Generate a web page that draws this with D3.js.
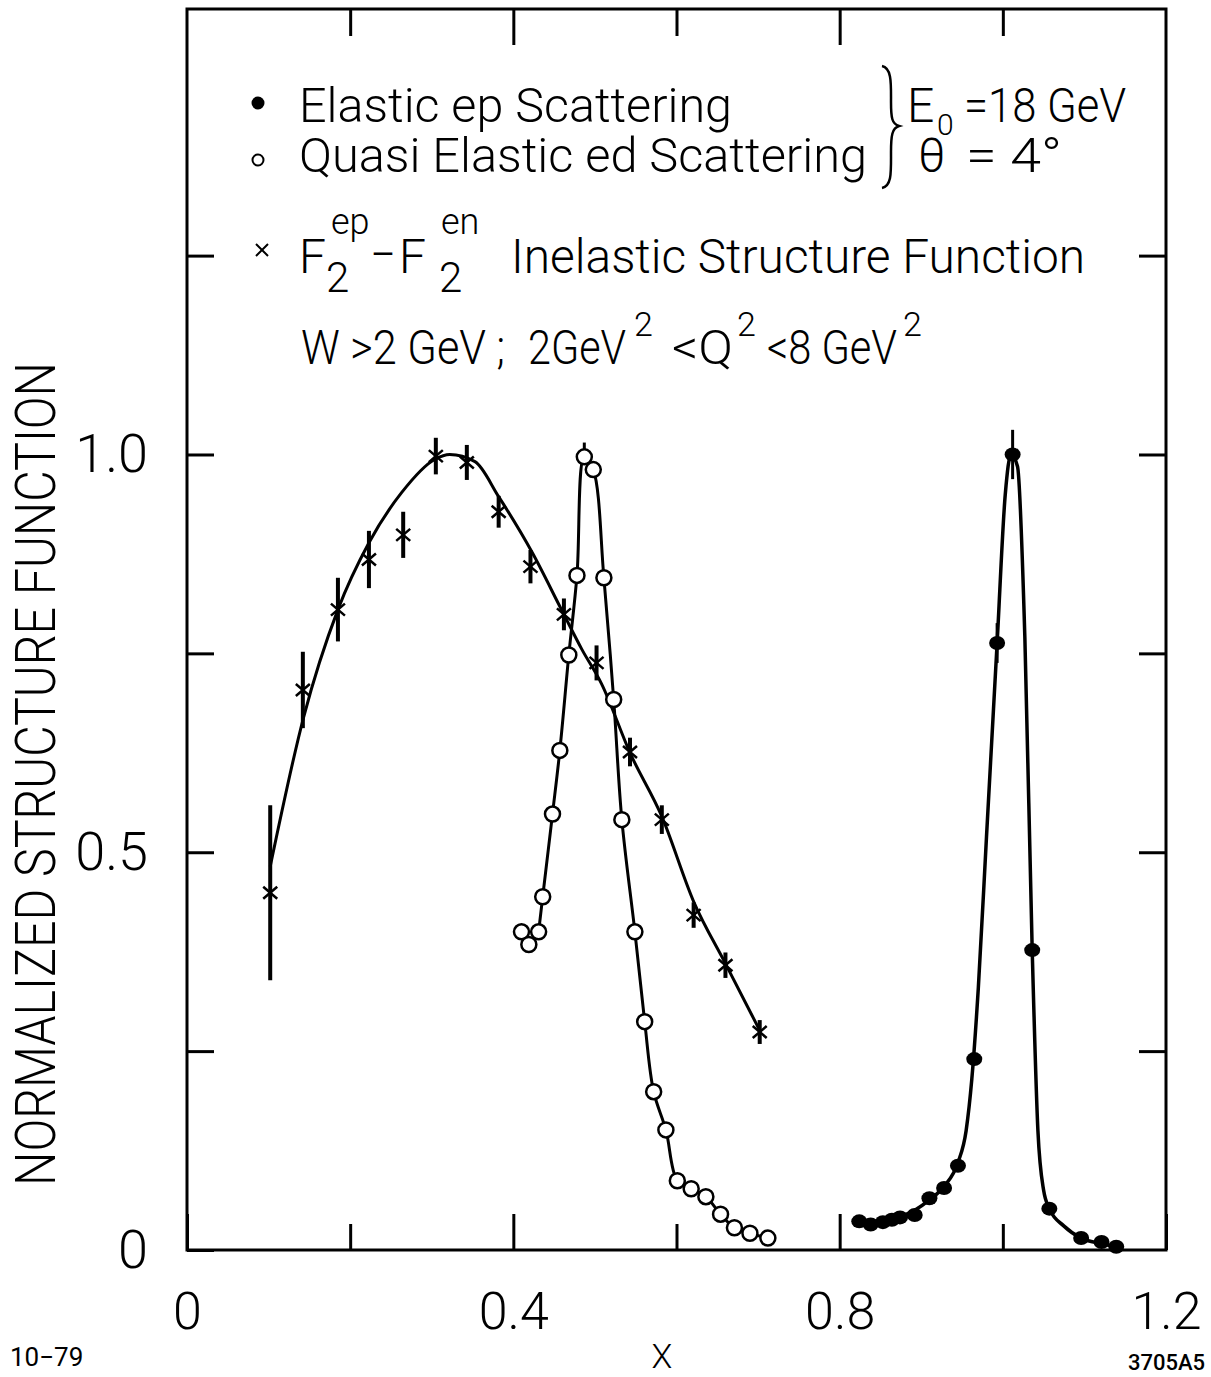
<!DOCTYPE html>
<html lang="en">
<head>
<meta charset="UTF-8">
<title>Normalized structure function vs x</title>
<script src="https://d3js.org/d3.v7.min.js"></script>
<style>
  body { margin: 0; background: #fff; }
  svg { display: block; }
  text { font-family: Roboto, "DejaVu Sans", sans-serif; font-weight: 300; fill: #000; }
  .tick text { font-size: 52px; }
  .tick line { stroke-width: 3; }
</style>
</head>
<body>
<svg id="chart"></svg>
<script>
// F2(ep) - F2(en) inelastic points (crosses) and their error half-widths
const inelX   = [0.102, 0.142, 0.185, 0.223, 0.265, 0.305, 0.343, 0.382, 0.421, 0.462, 0.502, 0.543, 0.582, 0.621, 0.660, 0.702];
const inelY   = [0.449, 0.704, 0.805, 0.868, 0.899, 0.998, 0.990, 0.928, 0.859, 0.799, 0.738, 0.626, 0.541, 0.421, 0.358, 0.274];
const inelErr = [0.110, 0.048, 0.040, 0.036, 0.029, 0.023, 0.022, 0.020, 0.021, 0.020, 0.022, 0.018, 0.018, 0.016, 0.016, 0.015];

// smooth fit through the inelastic points
const inelFitX = [0.102, 0.143, 0.185, 0.223, 0.263, 0.304, 0.322, 0.353, 0.382, 0.423, 0.459, 0.484, 0.508, 0.543, 0.582, 0.621, 0.660, 0.702];
const inelFitY = [0.482, 0.670, 0.805, 0.889, 0.952, 0.994, 1.000, 0.991, 0.947, 0.877, 0.805, 0.755, 0.712, 0.625, 0.545, 0.438, 0.360, 0.276];

// quasi elastic ed scattering (open circles)
const quasiX = [0.410, 0.419, 0.431, 0.436, 0.448, 0.457, 0.468, 0.478, 0.487, 0.498, 0.511, 0.523, 0.533, 0.549, 0.561, 0.572, 0.587, 0.601, 0.618, 0.636, 0.654, 0.671, 0.690, 0.712];
const quasiY = [0.400, 0.384, 0.400, 0.444, 0.548, 0.628, 0.748, 0.848, 0.997, 0.981, 0.845, 0.692, 0.541, 0.400, 0.287, 0.199, 0.151, 0.087, 0.077, 0.067, 0.045, 0.028, 0.021, 0.015];

// elastic ep scattering (filled dots)
const elasX   = [0.824, 0.838, 0.853, 0.864, 0.874, 0.892, 0.910, 0.928, 0.945, 0.965, 0.993, 1.012, 1.036, 1.057, 1.096, 1.121, 1.139];
const elasY   = [0.036, 0.032, 0.035, 0.038, 0.041, 0.044, 0.065, 0.078, 0.106, 0.240, 0.763, 1.000, 0.377, 0.052, 0.015, 0.010, 0.004];
const elasErr = [0, 0, 0, 0, 0, 0, 0, 0, 0, 0, 0.025, 0.031, 0, 0, 0, 0, 0];

// fitted elastic peak
const elasFitX = [0.855, 0.872, 0.892, 0.910, 0.928, 0.945, 0.955, 0.962, 0.970, 0.980, 0.993, 1.003, 1.010, 1.018, 1.027, 1.036, 1.043, 1.050, 1.057, 1.075, 1.096, 1.121, 1.139];
const elasFitY = [0.035, 0.041, 0.050, 0.063, 0.080, 0.110, 0.150, 0.215, 0.330, 0.520, 0.763, 0.950, 1.000, 0.985, 0.770, 0.377, 0.150, 0.075, 0.052, 0.030, 0.015, 0.008, 0.004];

const xMajor = [0, 0.4, 0.8, 1.2];
const xMinor = [0.2, 0.6, 1.0];
const yMajor = [0, 0.5, 1.0];
const yMinor = [0.25, 0.75, 1.25];

const width = 1211, height = 1377;

const svg = d3.select("#chart").attr("width", width).attr("height", height);

const x = d3.scaleLinear().domain([0, 1.2]).range([187, 1166]);
const y = d3.scaleLinear().domain([0, 1.56]).range([1250, 9]);

const fmt = d => d === 0 ? "0" : d3.format(".1f")(d);
const noDomain = g => g.select(".domain").remove();

// axes: ticks point inward, labelled ticks a bit longer on x
svg.append("g").attr("transform", `translate(0,${y(0)})`)
    .call(d3.axisBottom(x).tickValues(xMajor).tickSize(-36).tickPadding(42).tickFormat(fmt)).call(noDomain);
svg.append("g").attr("transform", `translate(0,${y(0)})`)
    .call(d3.axisBottom(x).tickValues(xMinor).tickSize(-26).tickFormat("")).call(noDomain);
svg.append("g").attr("transform", `translate(0,${y(1.56)})`)
    .call(d3.axisTop(x).tickValues([0.4, 0.8]).tickSize(-36).tickFormat("")).call(noDomain);
svg.append("g").attr("transform", `translate(0,${y(1.56)})`)
    .call(d3.axisTop(x).tickValues(xMinor).tickSize(-27).tickFormat("")).call(noDomain);
svg.append("g").attr("transform", `translate(${x(0)},0)`)
    .call(d3.axisLeft(y).tickValues(yMajor).tickSize(-27).tickPadding(39).tickFormat(fmt)).call(noDomain)
    .selectAll("text").style("font-size", "54px");
svg.append("g").attr("transform", `translate(${x(0)},0)`)
    .call(d3.axisLeft(y).tickValues(yMinor).tickSize(-27).tickFormat("")).call(noDomain);
svg.append("g").attr("transform", `translate(${x(1.2)},0)`)
    .call(d3.axisRight(y).tickValues([0.25, 0.5, 0.75, 1.0, 1.25]).tickSize(-27).tickFormat("")).call(noDomain);

// frame
svg.append("rect")
    .attr("x", x(0)).attr("y", y(1.56))
    .attr("width", x(1.2) - x(0)).attr("height", y(0) - y(1.56))
    .attr("fill", "none").attr("stroke", "#000").attr("stroke-width", 3);

// curves
const line = d3.line().x(d => x(d[0])).y(d => y(d[1]));

svg.append("path")
    .datum(d3.zip(inelFitX, inelFitY))
    .attr("d", line.curve(d3.curveMonotoneX))
    .attr("fill", "none").attr("stroke", "#000").attr("stroke-width", 3);

svg.append("path")
    .datum(d3.zip(elasFitX, elasFitY))
    .attr("d", line.curve(d3.curveMonotoneX))
    .attr("fill", "none").attr("stroke", "#000").attr("stroke-width", 3.5);

// quasi elastic points are joined directly (line starts at the third point)
svg.append("path")
    .datum(d3.zip(quasiX, quasiY).slice(2))
    .attr("d", line.curve(d3.curveCatmullRom.alpha(0.5)))
    .attr("fill", "none").attr("stroke", "#000").attr("stroke-width", 3);

// inelastic crosses with error bars
const inel = d3.zip(inelX, inelY, inelErr);
const cross = svg.append("g").selectAll("g").data(inel).join("g")
    .attr("transform", d => `translate(${x(d[0])},${y(d[1])})`);
cross.append("line")
    .attr("y1", d => y(d[1] + d[2]) - y(d[1]))
    .attr("y2", d => y(d[1] - d[2]) - y(d[1]))
    .attr("stroke", "#000").attr("stroke-width", 4);
cross.append("path")
    .attr("d", "M-7,-6L7,6M-7,6L7,-6")
    .attr("stroke", "#000").attr("stroke-width", 2.5);

// quasi elastic open circles (small error tick on the peak)
svg.append("line")
    .attr("x1", x(0.487)).attr("x2", x(0.487))
    .attr("y1", y(1.015)).attr("y2", y(0.997))
    .attr("stroke", "#000").attr("stroke-width", 3);
svg.append("g").selectAll("circle").data(d3.zip(quasiX, quasiY)).join("circle")
    .attr("cx", d => x(d[0])).attr("cy", d => y(d[1])).attr("r", 7.5)
    .attr("fill", "#fff").attr("stroke", "#000").attr("stroke-width", 2.5);

// elastic dots with error bars
const elas = d3.zip(elasX, elasY, elasErr);
svg.append("g").selectAll("line").data(elas.filter(d => d[2] > 0)).join("line")
    .attr("x1", d => x(d[0])).attr("x2", d => x(d[0]))
    .attr("y1", d => y(d[1] + d[2])).attr("y2", d => y(d[1] - d[2]))
    .attr("stroke", "#000").attr("stroke-width", 3);
svg.append("g").selectAll("ellipse").data(elas).join("ellipse")
    .attr("cx", d => x(d[0])).attr("cy", d => y(d[1]))
    .attr("rx", 8).attr("ry", 7).attr("fill", "#000");

// legend / annotation block
// each piece: [text, x, y, font size, textLength]
function label(pieces) {
    const t = svg.append("text");
    pieces.forEach(([txt, px, py, size, len]) => {
        const s = t.append("tspan").attr("x", px).attr("y", py).style("font-size", size + "px").text(txt);
        if (len) s.attr("textLength", len).attr("lengthAdjust", "spacingAndGlyphs");
    });
    return t;
}

svg.append("circle").attr("cx", 258).attr("cy", 103).attr("r", 6.5).attr("fill", "#000");
label([["Elastic ep Scattering", 299, 122, 48, 433]]);
svg.append("circle").attr("cx", 258).attr("cy", 160).attr("r", 5.5)
    .attr("fill", "none").attr("stroke", "#000").attr("stroke-width", 2);
label([["Quasi Elastic ed Scattering", 299, 172, 48, 568]]);

svg.append("path")
    .attr("d", "M882,66 C892,68 891,84 891,102 C891,118 892,124 899,126 C892,128 891,136 891,152 C891,172 892,186 882,188")
    .attr("fill", "none").attr("stroke", "#000").attr("stroke-width", 2.5);
label([["E", 907, 122, 48], ["0", 937, 135, 30], ["=18 GeV", 964, 122, 48, 162]]);
label([["θ", 918, 172, 48], ["=  4°", 966, 172, 48, 96]]);

svg.append("path").attr("d", "M256,244L268,256M256,256L268,244")
    .attr("stroke", "#000").attr("stroke-width", 2);
label([
    ["F", 299, 273, 48], ["ep", 331, 234, 36], ["2", 326, 292, 42],
    ["\u2212", 370, 271, 48, 26],
    ["F", 399, 273, 48], ["en", 441, 234, 36], ["2", 439, 292, 42],
    ["Inelastic Structure Function", 511, 273, 48, 574]
]);

label([
    ["W >2 GeV ;", 301, 364, 48, 204],
    ["2GeV", 528, 364, 48, 98], ["2", 634, 336, 34],
    ["<Q", 672, 364, 48, 61], ["2", 737, 336, 34],
    ["<8 GeV", 767, 364, 48, 130], ["2", 903, 336, 34]
]);

// axis titles and corner marks
svg.append("text")
    .attr("transform", "translate(55,774) rotate(-90)")
    .attr("text-anchor", "middle")
    .attr("textLength", 824).attr("lengthAdjust", "spacingAndGlyphs")
    .style("font-size", "56px")
    .text("NORMALIZED STRUCTURE FUNCTION");

svg.append("text").attr("x", 662).attr("y", 1368).attr("text-anchor", "middle")
    .style("font-size", "34px").text("X");

svg.append("text").attr("x", 10).attr("y", 1366)
    .style("font-size", "26px").style("font-weight", 400).text("10\u221279");
svg.append("text").attr("x", 1205).attr("y", 1370).attr("text-anchor", "end")
    .style("font-size", "22px").style("font-weight", 500).text("3705A5");
</script>
</body>
</html>
